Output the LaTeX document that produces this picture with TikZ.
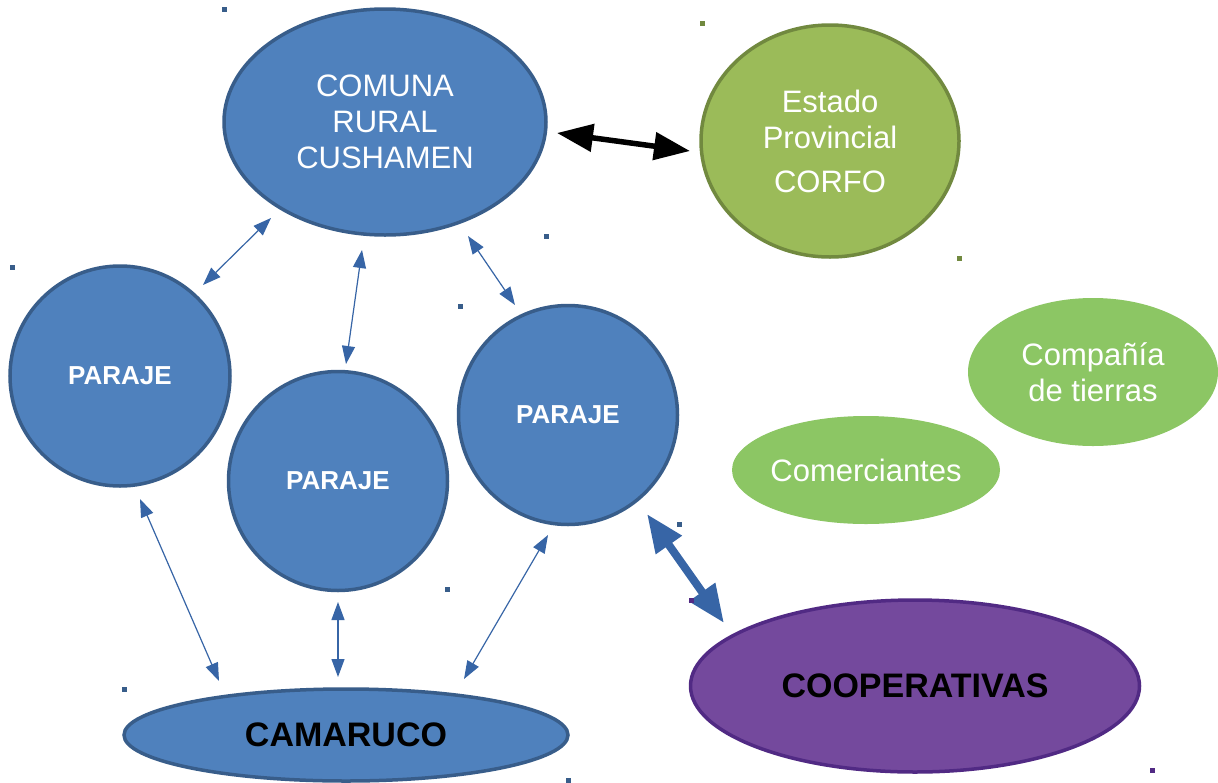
\documentclass[tikz,border=0pt]{standalone}
\usepackage{fontspec}
\setmainfont{Liberation Sans}
\usetikzlibrary{shapes.geometric,arrows.meta}
\definecolor{bfill}{HTML}{4F81BD}
\definecolor{bline}{HTML}{385D8A}
\definecolor{arrblue}{HTML}{3765A6}
\definecolor{gfill}{HTML}{9BBB59}
\definecolor{gline}{HTML}{71893F}
\definecolor{lgfill}{HTML}{8CC664}
\definecolor{pfill}{HTML}{74499D}
\definecolor{pline}{HTML}{512A84}
\tikzset{
  blob/.style={ellipse, inner sep=0pt, align=center, line width=3.5pt},
  bluebl/.style={blob, fill=bfill, draw=bline},
  regtxt/.style={text=white, font=\fontsize{31}{36}\selectfont},
  parajetxt/.style={text=white, font=\fontsize{26}{30}\selectfont\bfseries},
  bigtxt/.style={text=black, font=\fontsize{34}{38}\selectfont\bfseries},
  thinarr/.style={draw=arrblue, line width=1.2pt, {Triangle[length=18pt,width=13pt]}-{Triangle[length=18pt,width=13pt]}},
  blackarr/.style={draw=black, line width=5.5pt, {Triangle[length=36pt,width=27pt]}-{Triangle[length=36pt,width=27pt]}},
  bluethick/.style={draw=arrblue, line width=8pt, {Triangle[length=38pt,width=30pt]}-{Triangle[length=38pt,width=30pt]}},
  dot/.style={minimum size=5pt, inner sep=0pt}
}
\begin{document}
\begin{tikzpicture}[x=1pt,y=-1pt]
\useasboundingbox (0,0) rectangle (1218,782);
\fill[white] (0,0) rectangle (1218,782);

% nodes
\node[bluebl, regtxt, minimum width=322pt, minimum height=226pt] (com) at (385,122) {COMUNA\\RURAL\\CUSHAMEN};
\node[blob, fill=gfill, draw=gline, regtxt, minimum width=258pt, minimum height=232pt] (est) at (830,141) {Estado\\Provincial\\[8pt]CORFO};
\node[bluebl, parajetxt, minimum width=220pt, minimum height=220pt] (p1) at (120,376) {PARAJE};
\node[bluebl, parajetxt, minimum width=219pt, minimum height=219pt] (p2) at (338,481) {PARAJE};
\node[bluebl, parajetxt, minimum width=219pt, minimum height=219pt] (p3) at (568,415) {PARAJE};
\node[bluebl, bigtxt, minimum width=444pt, minimum height=92pt] (cam) at (346,735) {CAMARUCO};
\node[blob, fill=pfill, draw=pline, bigtxt, minimum width=449pt, minimum height=172pt] (coop) at (915,686) {COOPERATIVAS};
\node[blob, draw=none, fill=lgfill, regtxt, minimum width=250pt, minimum height=148pt] (cia) at (1093,372) {Compañía\\de tierras};
\node[blob, draw=none, fill=lgfill, regtxt, inner xsep=-8pt, minimum width=268pt, minimum height=108pt] (cmr) at (866,470) {Comerciantes};

% connector endpoints
\coordinate (a1s) at (557,133); \coordinate (a1e) at (690,151);
\coordinate (a2s) at (271,218); \coordinate (a2e) at (203,285);
\coordinate (a3s) at (362,250); \coordinate (a3e) at (346,364);
\coordinate (a4s) at (468,236); \coordinate (a4e) at (515,305);
\coordinate (a5s) at (140,499); \coordinate (a5e) at (219,681);
\coordinate (a6s) at (338,602); \coordinate (a6e) at (338,677);
\coordinate (a7s) at (548,535); \coordinate (a7e) at (464,679);
\coordinate (a8s) at (647,514); \coordinate (a8e) at (724,623);

\draw[blackarr] (a1s) -- (a1e);
\draw[thinarr] (a2s) -- (a2e);
\draw[thinarr] (a3s) -- (a3e);
\draw[thinarr] (a4s) -- (a4e);
\draw[thinarr] (a5s) -- (a5e);
\draw[thinarr] (a6s) -- (a6e);
\draw[thinarr] (a7s) -- (a7e);
\draw[bluethick] (a8s) -- (a8e);

% small marks
\foreach \px/\py in {224/9, 12/267, 546/236, 460/306, 679/524, 447/589, 124/689, 568/780}
  \fill[bline] (\px-2.5,\py-2.5) rectangle (\px+2.5,\py+2.5);
\foreach \px/\py in {702/23, 959/258}
  \fill[gline] (\px-2.5,\py-2.5) rectangle (\px+2.5,\py+2.5);
\foreach \px/\py in {691/600, 1152/770}
  \fill[pline] (\px-2.5,\py-2.5) rectangle (\px+2.5,\py+2.5);
\end{tikzpicture}
\end{document}
